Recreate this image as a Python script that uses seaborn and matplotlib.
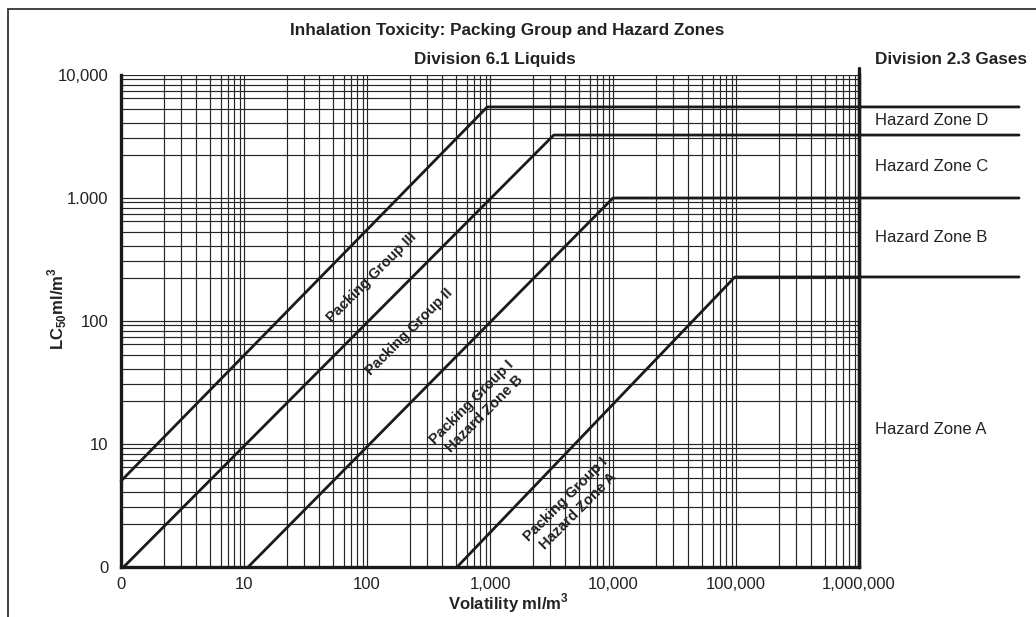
import numpy as np
import pandas as pd
import matplotlib
matplotlib.use('Agg')
import matplotlib.pyplot as plt
import matplotlib.ticker as mticker
from matplotlib.patches import Rectangle
import seaborn as sns

# boundary lines: start point, kink point, end of the gas cap line
groups = ['Packing Group III', 'Packing Group II', 'Packing Group I B', 'Packing Group I A']
start_v = [1, 1.05, 10.8, 540]
start_lc = [5, 1, 1, 1]
kink_v = [950, 3300, 10000, 98000]
kink_lc = [5500, 3250, 1000, 228]
gas_end_v = 2.0e7

x_ticks = [1, 10, 100, 1000, 10000, 100000, 1000000]
x_labels = ['0', '10', '100', '1,000', '10,000', '100,000', '1,000,000']
y_ticks = [1, 10, 100, 1000, 10000]
y_labels = ['0', '10', '100', '1.000', '10,000']
grid_subs = [2.25, 3.05, 4.1, 5.25, 6.45, 7.4, 8.3, 9.2]

zone_names = ['Hazard Zone D', 'Hazard Zone C', 'Hazard Zone B', 'Hazard Zone A']
zone_lc = [4300, 1790, 480, 13]

line_labels = ['Packing Group III', 'Packing Group II',
               'Packing Group I\nHazard Zone B', 'Packing Group I\nHazard Zone A']
label_v = [110, 219, 800, 4650]
label_lc = [228, 81, 19.6, 3.2]

rows = []
for g, sv, sl, kv, kl in zip(groups, start_v, start_lc, kink_v, kink_lc):
    rows += [(g, sv, sl), (g, kv, kl), (g, gas_end_v, kl)]
df = pd.DataFrame(rows, columns=['group', 'volatility', 'lc50'])

sns.set_style('white')
plt.rcParams['font.family'] = ['Liberation Sans', 'DejaVu Sans']
plt.rcParams['mathtext.fontset'] = 'custom'
plt.rcParams['mathtext.rm'] = 'Liberation Sans:bold'
plt.rcParams['mathtext.bf'] = 'Liberation Sans:bold'

fig = plt.figure(figsize=(10.36, 6.17), dpi=100)
ax = fig.add_axes([121 / 1036, 50 / 617, 738 / 1036, 492 / 617])
ax.set_xscale('log')
ax.set_yscale('log')

sns.lineplot(data=df, x='volatility', y='lc50', hue='group', units='group',
             estimator=None, sort=False, palette=['#1a1a1a'] * 4,
             linewidth=2.0, legend=False, ax=ax)
for ln in ax.lines:
    ln.set_clip_on(False)
    ln.set_zorder(5)

ax.set_xlim(1, 1e6)
ax.set_ylim(1, 1e4)
ax.set_xticks(x_ticks)
ax.set_xticklabels(x_labels)
ax.set_yticks(y_ticks)
ax.set_yticklabels(y_labels)
ax.xaxis.set_minor_locator(mticker.FixedLocator([s * 10 ** d for d in range(6) for s in grid_subs]))
ax.yaxis.set_minor_locator(mticker.FixedLocator([s * 10 ** d for d in range(4) for s in grid_subs]))
ax.xaxis.set_minor_formatter(mticker.NullFormatter())
ax.yaxis.set_minor_formatter(mticker.NullFormatter())
ax.tick_params(which='both', length=0, labelsize=12, colors='#222222')
ax.tick_params(axis='x', pad=7)
ax.tick_params(axis='y', pad=9)
ax.grid(which='both', color='#262626', linewidth=0.85)
ax.set_xlabel('')
ax.set_ylabel('')

ax.spines['top'].set_visible(False)
for s in ['left', 'bottom', 'right']:
    ax.spines[s].set_linewidth(2.4)
    ax.spines[s].set_color('#1a1a1a')
ax.plot([1, 1], [0, 1.014], transform=ax.transAxes, color='#1a1a1a',
        linewidth=2.4, clip_on=False, zorder=6)

for txt, v, l in zip(line_labels, label_v, label_lc):
    ax.text(v, l, txt, rotation=45, ha='center', va='center',
            rotation_mode='anchor', fontsize=10.5, fontweight='bold',
            color='#222222', linespacing=1.25, zorder=7)

ytrans = ax.get_yaxis_transform()
for txt, l in zip(zone_names, zone_lc):
    ax.text(1.022, l, txt, transform=ytrans, ha='left', va='center',
            fontsize=12, color='#222222', clip_on=False)

fig.text(0.4894, 0.950, 'Inhalation Toxicity: Packing Group and Hazard Zones',
         ha='center', va='center', fontsize=12.3, fontweight='bold', color='#222222')
fig.text(0.4773, 0.903, 'Division 6.1 Liquids', ha='center', va='center',
         fontsize=12.3, fontweight='bold', color='#222222')
fig.text(0.918, 0.903, 'Division 2.3 Gases', ha='center', va='center',
         fontsize=12.3, fontweight='bold', color='#222222')
fig.text(0.491, 0.023, r'Volatility ml/m$^{3}$', ha='center', va='center',
         fontsize=12, fontweight='bold', color='#222222')
fig.text(0.055, 0.500, r'LC$_{50}$ml/m$^{3}$', ha='center', va='center',
         rotation=90, fontsize=12, fontweight='bold', color='#222222')

fig.add_artist(Rectangle((7.5 / 1036, -0.2), 1.2, 1.2 - 9 / 617, transform=fig.transFigure,
                         fill=False, edgecolor='#333333', linewidth=1.3))

fig.savefig('out.png', dpi=100)
